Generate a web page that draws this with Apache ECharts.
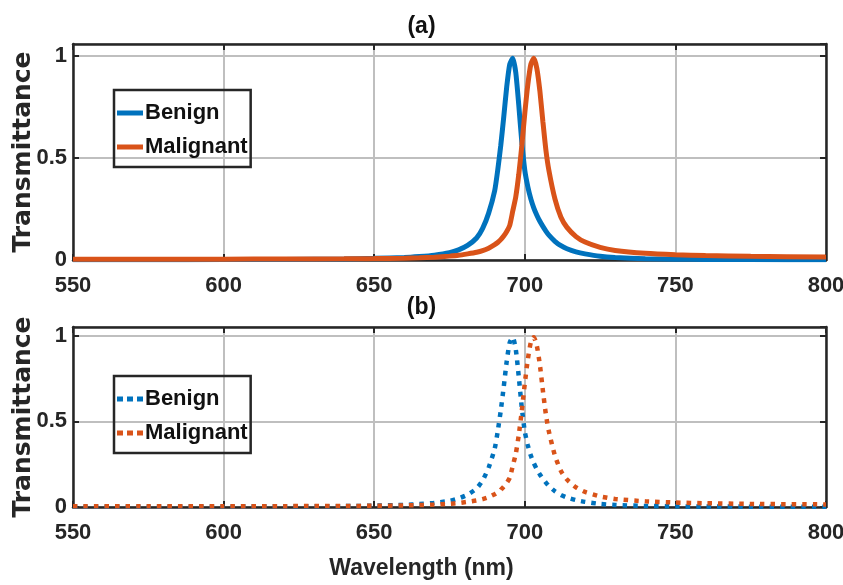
<!DOCTYPE html>
<html>
<head>
<meta charset="utf-8">
<script src="https://cdn.jsdelivr.net/npm/echarts@6/dist/echarts.min.js"></script>
<style>
  html, body { margin: 0; padding: 0; background: #fff; }
  #chart { width: 843px; height: 585px; }
</style>
</head>
<body>
<div id="chart"></div>
<script>
// wavelength samples (nm)
const wavelength = [550, 575, 600, 620, 640, 650, 660, 665, 670, 675, 678, 681, 684, 686, 688,
  690, 691, 692, 693, 694, 695, 696, 697, 698, 699, 700, 701, 702, 703, 704, 705, 706, 707, 708,
  710, 712, 714, 717, 720, 725, 730, 740, 750, 760, 775, 800]
const benign = [0.001, 0.001, 0.002, 0.003, 0.005, 0.008, 0.012, 0.017, 0.024, 0.036, 0.05, 0.072, 0.108, 0.155, 0.23,
  0.34, 0.44, 0.56, 0.70, 0.85, 0.96, 0.99, 0.92, 0.76, 0.58, 0.44, 0.36, 0.30, 0.255, 0.22, 0.19, 0.165, 0.142, 0.122,
  0.092, 0.07, 0.055, 0.04, 0.03, 0.018, 0.012, 0.006, 0.004, 0.003, 0.002, 0.001]
const malignant = [0.004, 0.004, 0.004, 0.005, 0.006, 0.007, 0.009, 0.011, 0.014, 0.019, 0.023, 0.03, 0.038, 0.046, 0.058,
  0.075, 0.086, 0.1, 0.118, 0.14, 0.17, 0.24, 0.31, 0.42, 0.56, 0.72, 0.86, 0.96, 0.99, 0.94, 0.83, 0.68, 0.54, 0.44,
  0.3, 0.21, 0.16, 0.115, 0.088, 0.062, 0.047, 0.033, 0.026, 0.022, 0.018, 0.015]
const yTicks = [0, 0.5, 1]

const BLUE = '#0072BD'
const ORANGE = '#D95319'
const FONT = "'Liberation Sans', Arial, sans-serif"

// legend samples: solid bar and three dots
const SOLID_ICON = 'path://M0,0H26V5H0Z'
const DOTS_ICON = 'path://M0,0H6V5H0ZM10,0H16V5H10ZM20,0H26V5H20Z'

function pairs (ys) {
  return wavelength.map((w, i) => [w, ys[i]])
}

const grids = [
  {left: 73, top: 44, width: 753, height: 216, outerBoundsMode: 'none'},
  {left: 73, top: 327, width: 753, height: 180, outerBoundsMode: 'none'}
]

function xAxisFor (gridIndex, top) {
  return {
    type: 'value',
    gridIndex: gridIndex,
    position: top ? 'top' : 'bottom',
    min: 550,
    max: 800,
    interval: 50,
    axisLine: {show: true, onZero: false, lineStyle: {color: '#262626', width: 2.5}},
    axisTick: {show: true, inside: true, length: 6, lineStyle: {color: '#262626', width: 2}},
    axisLabel: {
      show: !top,
      margin: 15,
      color: '#262626',
      fontFamily: FONT,
      fontWeight: 'bold',
      fontSize: 22
    },
    splitLine: {show: !top, lineStyle: {color: '#bfbfbf', width: 2}}
  }
}

function yAxisFor (gridIndex, right, max) {
  return {
    type: 'value',
    gridIndex: gridIndex,
    position: right ? 'right' : 'left',
    min: 0,
    max: max,
    interval: 0.5,
    name: right ? '' : 'Transmittance',
    nameLocation: 'middle',
    nameGap: 37,
    nameMoveOverlap: false,
    nameTextStyle: {
      color: '#262626',
      fontFamily: "'DejaVu Sans', sans-serif",
      fontWeight: 'bold',
      fontSize: 25
    },
    axisLine: {show: true, onZero: false, lineStyle: {color: '#262626', width: 2.5}},
    axisTick: {show: true, inside: true, length: 6, lineStyle: {color: '#262626', width: 2}},
    axisLabel: {
      show: !right,
      showMaxLabel: false,
      margin: 6,
      color: '#262626',
      fontFamily: FONT,
      fontWeight: 'bold',
      fontSize: 22,
      formatter: v => (yTicks.indexOf(v) >= 0 ? String(v) : '')
    },
    splitLine: {show: !right, lineStyle: {color: '#bfbfbf', width: 2}}
  }
}

function legendFor (top, names, icon) {
  return {
    data: names.map(n => ({name: n, icon: icon})),
    orient: 'vertical',
    left: 114,
    top: top,
    padding: [12, 3, 9, 3],
    itemGap: 12,
    itemWidth: 26,
    itemHeight: 5,
    borderColor: '#262626',
    borderWidth: 2.5,
    formatter: name => name.split(' ')[0],
    textStyle: {
      color: '#111',
      fontFamily: FONT,
      fontWeight: 'bold',
      fontSize: 22,
      padding: [0, 0, 0, -3]
    }
  }
}

function lineSeries (name, ys, color, axis, dotted) {
  return {
    name: name,
    type: 'line',
    xAxisIndex: axis,
    yAxisIndex: axis,
    symbol: 'none',
    smooth: 0.2,
    data: pairs(ys),
    lineStyle: {color: color, width: dotted ? 4.5 : 5, type: dotted ? [4.5, 6] : 'solid', cap: 'butt'},
    itemStyle: {color: color},
    emphasis: {disabled: true}
  }
}

const chart = echarts.init(document.getElementById('chart'))
chart.setOption({
  animation: false,
  backgroundColor: '#fff',
  title: [
    {text: '(a)', left: 'center', top: 10, textStyle: {fontFamily: FONT, fontWeight: 'bold', fontSize: 23, color: '#111'}},
    {text: '(b)', left: 'center', top: 291, textStyle: {fontFamily: FONT, fontWeight: 'bold', fontSize: 23, color: '#111'}},
    {text: 'Wavelength (nm)', left: 'center', top: 552, textStyle: {fontFamily: FONT, fontWeight: 'bold', fontSize: 23, color: '#262626'}}
  ],
  grid: grids,
  legend: [
    legendFor(90, ['Benign (a)', 'Malignant (a)'], SOLID_ICON),
    legendFor(376, ['Benign (b)', 'Malignant (b)'], DOTS_ICON)
  ],
  xAxis: [xAxisFor(0, false), xAxisFor(0, true), xAxisFor(1, false), xAxisFor(1, true)],
  yAxis: [yAxisFor(0, false, 1.06), yAxisFor(0, true, 1.06), yAxisFor(1, false, 1.05), yAxisFor(1, true, 1.05)],
  series: [
    lineSeries('Benign (a)', benign, BLUE, 0, false),
    lineSeries('Malignant (a)', malignant, ORANGE, 0, false),
    lineSeries('Benign (b)', benign, BLUE, 2, true),
    lineSeries('Malignant (b)', malignant, ORANGE, 2, true)
  ]
})
</script>
</body>
</html>
